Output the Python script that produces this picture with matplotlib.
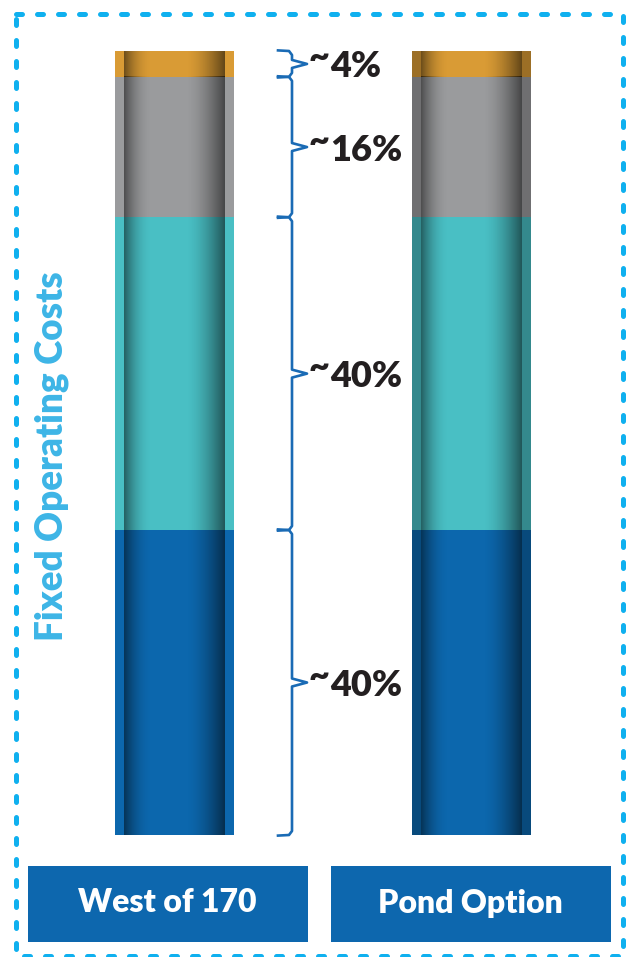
import matplotlib.pyplot as plt
import matplotlib.transforms as mtransforms
from matplotlib.patches import Rectangle
import numpy as np

options = ['West of 170', 'Pond Option']
seg_values = [38.9, 39.9, 17.9, 3.3]
seg_colors = ['#0c67ad', '#49bfc4', '#9a9b9d', '#d99b35']
seg_labels = ['~40%', '~40%', '~16%', '~4%']
axis_title = 'Fixed Operating Costs'

W, H = 626, 957
FONT = 'Lato'

fig = plt.figure(figsize=(W / 100, H / 100), dpi=100)

# background overlay in pixel coords for frame and label boxes
ov = fig.add_axes([0, 0, 1, 1], zorder=0)
ov.set_xlim(0, W)
ov.set_ylim(H, 0)
ov.axis('off')

frame = Rectangle((16, 14), 607, 942, fill=False, edgecolor='#0fb0ef',
                  linewidth=3.6, linestyle=(0, (1.2, 3.0)))
frame.set_capstyle('round')
ov.add_patch(frame)

for x0, name in zip([28, 331], options):
    ov.add_patch(Rectangle((x0, 866), 280, 76, facecolor='#0d67ae', edgecolor='none'))
    ov.text(x0 + 139, 903, name, ha='center', va='center', color='white',
            fontsize=23, fontweight='heavy', family=FONT)

ov.text(52, 456, axis_title, rotation=90, ha='center', va='center',
        color='#3db5e6', fontsize=26.5, fontweight='heavy', family=FONT)

# bar axes
total = sum(seg_values)
ax = fig.add_axes([0, 1 - 835 / H, 1, 784 / H], zorder=1)
ax.patch.set_alpha(0)
px = 296.5  # pixels per category unit
xmin = -174.5 / px
ax.set_xlim(xmin, xmin + W / px)
ax.set_ylim(0, total)
ax.axis('off')

width = 119 / px
strip = 9 / px
x = np.arange(len(options))
bottoms = np.concatenate([[0], np.cumsum(seg_values)[:-1]])

u = np.linspace(0, 1, 200)
alpha = np.where(u < 0.28, 0.5 * (1 - u / 0.28) ** 2, 0.0)
alpha = alpha + np.where(u > 0.62, 0.55 * ((u - 0.62) / 0.38) ** 1.6, 0.0)
shade = np.zeros((1, len(u), 4))
shade[0, :, 3] = alpha

for i, xc in enumerate(x):
    ax.bar(xc, seg_values, width, bottom=bottoms, color=seg_colors, edgecolor='none')
    for b, v in zip(bottoms, seg_values):
        left = xc - width / 2 + strip
        right = xc + width / 2 - strip
        ax.imshow(shade, extent=(left, right, b, b + v), aspect='auto',
                  interpolation='bilinear', zorder=3)
        if i == 1:
            for sx in (xc - width / 2, right):
                ax.add_patch(Rectangle((sx, b), strip, v, facecolor='black',
                                       alpha=0.28, edgecolor='none', zorder=3))
ax.set_xlim(xmin, xmin + W / px)
ax.set_ylim(0, total)

# braces: x in axes fraction, y in data
tr = mtransforms.blended_transform_factory(ax.transAxes, ax.transData)
xv, xl, xt = 292 / W, 278 / W, 307 / W
dy = total / 784  # data units per pixel
dx = 1 / W
for b, v, lab in zip(bottoms, seg_values, seg_labels):
    top, mid = b + v, b + v / 2
    xs = [xl, xv - 3 * dx, xv, xv, xt, xv, xv, xv - 3 * dx, xl]
    ys = [top + 0.6 * dy, top, top - 4 * dy, mid + 4 * dy, mid,
          mid - 4 * dy, b + 4 * dy, b, b - 0.6 * dy]
    ax.plot(xs, ys, color='#1a6bb5', lw=1.9, transform=tr, clip_on=False,
            solid_joinstyle='round')
    # raised tilde, then the number
    ax.text(xt + 2 * dx, mid + 6 * dy, lab[0], transform=tr, ha='left', va='center',
            fontsize=26, fontweight='heavy', color='#231f20', family=FONT)
    ax.text(xt + 23 * dx, mid - 3 * dy, lab[1:], transform=tr, ha='left', va='center',
            fontsize=26, fontweight='heavy', color='#231f20', family=FONT)

plt.savefig('out.png', dpi=100)
